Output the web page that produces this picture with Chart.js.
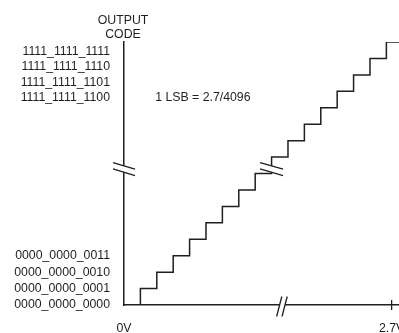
<!DOCTYPE html>
<html>
<head>
<meta charset="utf-8">
<title>ADC transfer function</title>
<script src="https://cdn.jsdelivr.net/npm/chart.js@4/dist/chart.umd.min.js"></script>
<style>
  html, body { margin: 0; padding: 0; background: #fff; }
  #wrap { width: 399px; height: 333px; }
</style>
</head>
<body>
<div id="wrap"><canvas id="chart-adc" width="399" height="333"></canvas></div>
<script>
// ============================================
// Output code vs. input voltage (ideal staircase)
// ============================================

// ─── Data ────────────────────────────────────────────────────────────────────

// x in LSB units, y in code steps (axis is broken in the middle)
const riseAt     = [1, 2, 3, 4, 5, 6, 7, 8, 9, 10, 11, 12, 13, 14, 15, 16, 17];
const codeStep   = [0, 1, 2, 3, 4, 5, 6, 7, 8, 9, 10, 11, 12, 13, 14, 15, 16];

const codeTickLevels = [0, 1, 2, 3, 12.6, 13.5, 14.5, 15.42];
const codeTickLabels = [
  '0000_0000_0000', '0000_0000_0001', '0000_0000_0010', '0000_0000_0011',
  '1111_1111_1100', '1111_1111_1101', '1111_1111_1110', '1111_1111_1111'
];

const voltTicks  = [0, 16.32];
const voltLabels = ['0V', '2.7V'];

const axisTitle = ['OUTPUT', 'CODE'];
const lsbNote   = '1 LSB = 2.7/4096';

// ─── Styles ──────────────────────────────────────────────────────────────────

const INK  = '#1f1f1f';
const FONT = "'Liberation Sans', Arial, Helvetica, sans-serif";
const SIZE = 12.3;

// where the breaks sit (scale units)
const BREAK_LEVEL  = 8.27;
const STAIR_BREAK  = 9;
const X_BREAK      = 9.63;

// ─── Helpers ─────────────────────────────────────────────────────────────────

/** two parallel slashes with white between them (axis break mark) */
function slashPair(ctx, cx, cy, dx, dy, gapX, gapY) {
  const a = { x: cx - gapX / 2, y: cy - gapY / 2 };
  const b = { x: cx + gapX / 2, y: cy + gapY / 2 };
  ctx.save();
  ctx.fillStyle = '#fff';
  ctx.beginPath();
  ctx.moveTo(a.x - dx, a.y - dy);
  ctx.lineTo(a.x + dx, a.y + dy);
  ctx.lineTo(b.x + dx, b.y + dy);
  ctx.lineTo(b.x - dx, b.y - dy);
  ctx.closePath();
  ctx.fill();
  ctx.strokeStyle = INK;
  ctx.lineWidth = 1.3;
  ctx.beginPath();
  ctx.moveTo(a.x - dx, a.y - dy); ctx.lineTo(a.x + dx, a.y + dy);
  ctx.moveTo(b.x - dx, b.y - dy); ctx.lineTo(b.x + dx, b.y + dy);
  ctx.stroke();
  ctx.restore();
}

// ─── Plugin: breaks, tick mark, annotations ─────────────────────────────────

const annotasi = {
  id: 'annotasi',
  afterDraw(chart) {
    const { ctx, scales: { x, y } } = chart;
    const yb = y.getPixelForValue(BREAK_LEVEL);

    // y axis break
    slashPair(ctx, x.getPixelForValue(0), yb, 11, 3.3, 0, 6.4);
    // staircase break
    slashPair(ctx, x.getPixelForValue(STAIR_BREAK), yb, 11.5, 3.3, 0, 6.4);
    // x axis break
    slashPair(ctx, x.getPixelForValue(X_BREAK), y.getPixelForValue(0) + 1.5, 2.6, -10, 5.4, 0);

    // full-scale tick crossing the axis
    ctx.save();
    ctx.strokeStyle = INK;
    ctx.lineWidth = 1.3;
    const xt = x.getPixelForValue(voltTicks[1]);
    const y0 = y.getPixelForValue(0);
    ctx.beginPath();
    ctx.moveTo(xt, y0 - 5);
    ctx.lineTo(xt, y0 + 5);
    ctx.stroke();

    // axis title and LSB note
    ctx.fillStyle = INK;
    ctx.font = SIZE + 'px ' + FONT;
    ctx.textAlign = 'center';
    ctx.textBaseline = 'middle';
    const xa = x.getPixelForValue(0) - 1;
    ctx.fillText(axisTitle[0], xa, 20.5);
    ctx.fillText(axisTitle[1], xa, 34.5);

    ctx.textAlign = 'left';
    ctx.fillText(lsbNote, x.getPixelForValue(1.9), y.getPixelForValue(12.6));
    ctx.restore();
  }
};

// ─── Chart ───────────────────────────────────────────────────────────────────

new Chart(document.getElementById('chart-adc'), {
  type: 'line',
  data: {
    datasets: [{
      data: riseAt.map((v, i) => ({ x: v, y: codeStep[i] })),
      stepped: 'after',
      borderColor: INK,
      borderWidth: 1.5,
      pointRadius: 0,
      fill: false
    }]
  },
  options: {
    responsive: false,
    animation: false,
    devicePixelRatio: 1,
    layout: { padding: { top: 42, left: 0, right: 0, bottom: 0 } },
    plugins: {
      legend: { display: false },
      tooltip: { enabled: false }
    },
    scales: {
      x: {
        type: 'linear',
        min: 0,
        max: 16.77,
        grid: { display: false, drawTicks: false, tickLength: 0 },
        border: { display: true, color: INK, width: 1.5 },
        afterBuildTicks: s => { s.ticks = voltTicks.map(v => ({ value: v })); },
        afterFit: s => { s.paddingLeft = 0; s.paddingRight = 0; s.height = 28; },
        ticks: {
          autoSkip: false,
          maxRotation: 0,
          padding: 16,
          color: INK,
          font: { family: FONT, size: SIZE },
          callback: (v, i) => voltLabels[i]
        }
      },
      y: {
        type: 'linear',
        min: 0,
        max: 16,
        grid: { display: false, drawTicks: false, tickLength: 0 },
        border: { display: true, color: INK, width: 1.5 },
        afterBuildTicks: s => { s.ticks = codeTickLevels.map(v => ({ value: v })); },
        afterFit: s => { s.width = 124; s.paddingTop = 0; s.paddingBottom = 0; },
        ticks: {
          autoSkip: false,
          padding: 14,
          color: INK,
          font: { family: FONT, size: SIZE },
          callback: (v, i) => codeTickLabels[i]
        }
      }
    }
  },
  plugins: [annotasi]
});
</script>
</body>
</html>
